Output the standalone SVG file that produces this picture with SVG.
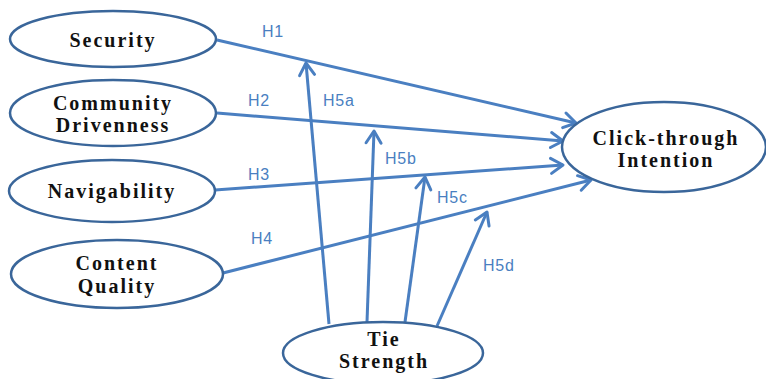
<svg xmlns="http://www.w3.org/2000/svg" width="766" height="379" viewBox="0 0 766 379">
<defs>
<style>
.node ellipse{fill:#fff;stroke:#3a669a;stroke-width:2.5}
.node text{font-family:"Liberation Serif","Times New Roman",serif;font-weight:bold;font-size:20px;fill:#111;text-anchor:middle;letter-spacing:2px}
.edge{stroke:#4a7fc1;stroke-width:3;fill:none;marker-end:url(#arr)}
.lbl{font-family:"Liberation Sans",Arial,sans-serif;font-size:16px;fill:#4a7fc1;letter-spacing:0.8px}
</style>
<marker id="arr" markerUnits="userSpaceOnUse" markerWidth="20" markerHeight="20" viewBox="0 0 20 20" refX="17" refY="10" orient="auto">
<path d="M5,2.5 L17,10 L5,17.5" fill="none" stroke="#4a7fc1" stroke-width="3" stroke-linecap="round" stroke-linejoin="round"/>
</marker>
</defs>
<rect width="766" height="379" fill="#fff"/>
<g id="connectors">
<line class="edge" x1="217" y1="40" x2="576" y2="123"/>
<line class="edge" x1="217" y1="113" x2="563" y2="141"/>
<line class="edge" x1="215" y1="190" x2="563" y2="165"/>
<line class="edge" x1="223" y1="273" x2="591" y2="180"/>
<line class="edge" x1="329" y1="324" x2="306" y2="63"/>
<line class="edge" x1="367" y1="322" x2="374" y2="131"/>
<line class="edge" x1="405" y1="322" x2="425" y2="177"/>
<line class="edge" x1="437" y1="326" x2="487" y2="212"/>
<text class="lbl" x="262" y="37">H1</text>
<text class="lbl" x="248" y="106">H2</text>
<text class="lbl" x="323" y="106">H5a</text>
<text class="lbl" x="248" y="180">H3</text>
<text class="lbl" x="385" y="164">H5b</text>
<text class="lbl" x="437" y="203">H5c</text>
<text class="lbl" x="483" y="271">H5d</text>
<text class="lbl" x="251" y="244">H4</text>
</g>
<g id="security" class="node">
<ellipse cx="113" cy="39" rx="103" ry="28"/>
<text x="113" y="47">Security</text>
</g>
<g id="community" class="node">
<ellipse cx="113" cy="113" rx="103" ry="33"/>
<text x="113" y="110">Community</text>
<text x="113" y="132">Drivenness</text>
</g>
<g id="navigability" class="node">
<ellipse cx="112" cy="191" rx="103" ry="31"/>
<text x="112" y="198">Navigability</text>
</g>
<g id="content" class="node">
<ellipse cx="117" cy="274" rx="106" ry="34"/>
<text x="117" y="270">Content</text>
<text x="117" y="293">Quality</text>
</g>
<g id="click" class="node">
<ellipse cx="664" cy="147" rx="102" ry="45"/>
<text x="666" y="145">Click-through</text>
<text x="666" y="167">Intention</text>
</g>
<g id="tie" class="node">
<ellipse cx="383" cy="353" rx="100" ry="31"/>
<text x="384" y="346">Tie</text>
<text x="384" y="368">Strength</text>
</g>
</svg>
